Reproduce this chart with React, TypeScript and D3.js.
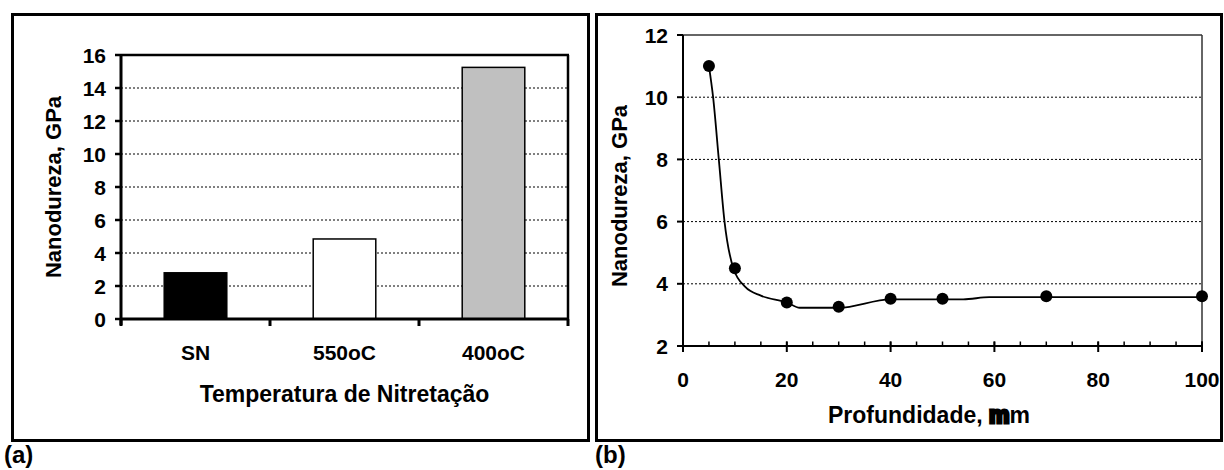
import React from "react";
import * as d3 from "d3";

// ---- Data (a) ----
const categories = ["SN", "550oC", "400oC"];
const hardness = [2.8, 4.85, 15.25];
const barFills = ["#000000", "#ffffff", "#c0c0c0"];
const yTicksA = [0, 2, 4, 6, 8, 10, 12, 14, 16];

// ---- Data (b) ----
const depth = [5, 10, 20, 30, 40, 50, 70, 100];
const depthHardness = [11, 4.5, 3.4, 3.26, 3.52, 3.52, 3.6, 3.6];
// smoothed trend line as drawn in the picture
const lineX = [5, 5.8, 6.9, 8, 9.7, 12, 15, 20, 22.5, 30, 40, 54, 59, 70, 100];
const lineY = [11, 10, 8, 6, 4.5, 3.9, 3.62, 3.4, 3.23, 3.23, 3.5, 3.5, 3.57, 3.57, 3.57];
const yTicksB = [2, 4, 6, 8, 10, 12];
const xTicksB = [0, 20, 40, 60, 80, 100];
const xMinorB = d3.range(0, 101, 5);

const FONT = "'Liberation Sans', Arial, Helvetica, sans-serif";

function HText({ x, y, anchor = "middle", size = 21, children }: any) {
  return (
    <text
      x={x}
      y={y}
      textAnchor={anchor}
      fontSize={size}
      fontWeight="bold"
      fontFamily={FONT}
      fill="#000"
    >
      {children}
    </text>
  );
}

function VText({ x, y, size = 22, children }: any) {
  return (
    <text
      transform={`translate(${x},${y}) rotate(-90)`}
      textAnchor="middle"
      fontSize={size}
      fontWeight="bold"
      fontFamily={FONT}
      fill="#000"
    >
      {children}
    </text>
  );
}

export default function App() {
  // Panel (a) geometry
  const aL = 121, aR = 568, aT = 55, aB = 319;
  const xA = d3.scaleBand<string>().domain(categories).range([aL, aR]).paddingInner(0.58).paddingOuter(0.29);
  const yA = d3.scaleLinear().domain([0, 16]).range([aB, aT]);
  const stepA = (aR - aL) / categories.length;

  // Panel (b) geometry
  const bL = 683, bR = 1202, bT = 35, bB = 346;
  const xB = d3.scaleLinear().domain([0, 100]).range([bL, bR]);
  const yB = d3.scaleLinear().domain([2, 12]).range([bB, bT]);
  const lineGen = d3
    .line<number>()
    .x((_, i) => xB(lineX[i]))
    .y((d) => yB(d))
    .curve(d3.curveMonotoneX);

  return (
    <svg
      width={1224}
      height={470}
      style={{ position: "absolute", left: 0, top: 0, background: "#fff" }}
    >
      <rect x={0} y={0} width={1224} height={470} fill="#fff" />

      {/* ===== Panel (a) ===== */}
      <rect x={12.5} y={14.5} width={576} height={426} fill="none" stroke="#000" strokeWidth={3} />
      {yTicksA.filter((t) => t > 0 && t < 16).map((t) => (
        <line key={t} x1={aL} x2={aR} y1={yA(t)} y2={yA(t)} stroke="#000" strokeWidth={1} strokeDasharray="2,2" />
      ))}
      {categories.map((c, i) => (
        <rect
          key={c}
          x={xA(c)!}
          y={yA(hardness[i])}
          width={xA.bandwidth()}
          height={aB - yA(hardness[i])}
          fill={barFills[i]}
          stroke="#000"
          strokeWidth={1.5}
        />
      ))}
      <line x1={aL} x2={aR + 1} y1={aT} y2={aT} stroke="#000" strokeWidth={2.5} />
      <line x1={aR} x2={aR} y1={aT} y2={aB} stroke="#000" strokeWidth={2.5} />
      <line x1={aL} x2={aR + 1} y1={aB} y2={aB} stroke="#000" strokeWidth={3} />
      <line x1={aL} x2={aL} y1={aT - 1} y2={aB + 6} stroke="#000" strokeWidth={3} />
      {yTicksA.map((t) => (
        <g key={t}>
          <line x1={aL - 6} x2={aL} y1={yA(t)} y2={yA(t)} stroke="#000" strokeWidth={2.5} />
          <HText x={106} y={yA(t) + 7.5} anchor="end">{t}</HText>
        </g>
      ))}
      {d3.range(categories.length + 1).map((i) => (
        <line key={i} x1={aL + i * stepA} x2={aL + i * stepA} y1={aB} y2={aB + 7} stroke="#000" strokeWidth={3} />
      ))}
      {categories.map((c) => (
        <HText key={c} x={xA(c)! + xA.bandwidth() / 2} y={360}>{c}</HText>
      ))}
      <HText x={(aL + aR) / 2} y={402} size={23}>Temperatura de Nitretação</HText>
      <VText x={61} y={187}>Nanodureza, GPa</VText>
      <HText x={4} y={463} anchor="start" size={24}>(a)</HText>

      {/* ===== Panel (b) ===== */}
      <rect x={596.5} y={14.5} width={625} height={426} fill="none" stroke="#000" strokeWidth={3} />
      {yTicksB.filter((t) => t > 2 && t < 12).map((t) => (
        <line key={t} x1={bL} x2={bR} y1={yB(t)} y2={yB(t)} stroke="#000" strokeWidth={1} strokeDasharray="2,2" />
      ))}
      <line x1={bL} x2={bR} y1={bT} y2={bT} stroke="#333" strokeWidth={1.5} />
      <line x1={bR} x2={bR} y1={bT} y2={bB} stroke="#333" strokeWidth={1.5} />
      <line x1={bL} x2={bR + 1} y1={bB} y2={bB} stroke="#000" strokeWidth={2} />
      <line x1={bL} x2={bL} y1={bT} y2={bB} stroke="#000" strokeWidth={2} />
      {yTicksB.map((t) => (
        <g key={t}>
          <line x1={bL - 6} x2={bL} y1={yB(t)} y2={yB(t)} stroke="#000" strokeWidth={2} />
          <HText x={668} y={yB(t) + 7.5} anchor="end">{t}</HText>
        </g>
      ))}
      {xMinorB.map((t) => (
        <line key={"m" + t} x1={xB(t)} x2={xB(t)} y1={bB - 4.5} y2={bB} stroke="#000" strokeWidth={1.5} />
      ))}
      {xTicksB.map((t) => (
        <g key={t}>
          <line x1={xB(t)} x2={xB(t)} y1={bB - 4.5} y2={bB + 6} stroke="#000" strokeWidth={2} />
          <HText x={xB(t)} y={387}>{t}</HText>
        </g>
      ))}
      <path d={lineGen(lineY) || ""} fill="none" stroke="#000" strokeWidth={1.8} />
      {depth.map((d, i) => (
        <circle key={d} cx={xB(d)} cy={yB(depthHardness[i])} r={6} fill="#000" />
      ))}
      <text
        x={828}
        y={423}
        textAnchor="start"
        fontSize={23}
        fontWeight="bold"
        fontFamily={FONT}
        fill="#000"
      >
        Profundidade,{" "}
        <tspan stroke="#000" strokeWidth={3}>m</tspan>m
      </text>
      <VText x={627} y={196}>Nanodureza, GPa</VText>
      <HText x={595} y={463} anchor="start" size={24}>(b)</HText>
    </svg>
  );
}
